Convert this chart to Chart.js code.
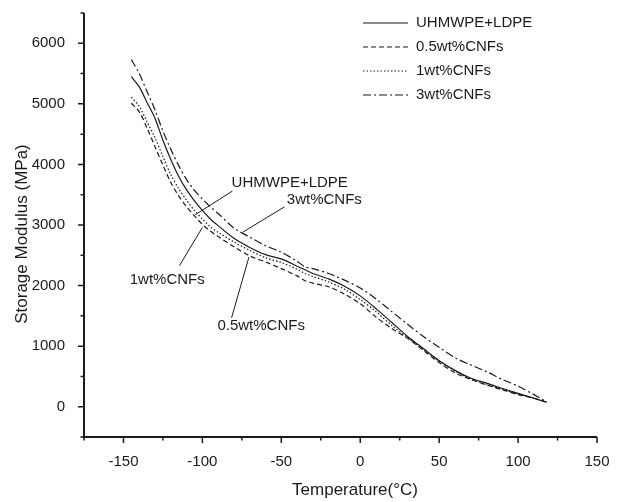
<!DOCTYPE html>
<html>
<head>
<meta charset="utf-8">
<script src="https://cdn.jsdelivr.net/npm/chart.js@4.4.0/dist/chart.umd.min.js"></script>
<style>
html, body { margin: 0; padding: 0; background: #fff; }
</style>
</head>
<body>
<canvas id="myChart" width="622" height="502"></canvas>
<script>
// temperatures (°C) shared by all four curves
let temps = [-145, -140, -135, -130, -125, -120, -115, -110, -105, -100, -95, -90, -80, -70, -60, -50, -40, -35, -30, -20, -10, 0, 10, 20, 30, 40, 50, 60, 70, 80, 90, 100, 110, 118]
// storage modulus (MPa)
let blendValues = [5450, 5280, 5020, 4760, 4400, 4080, 3800, 3580, 3400, 3240, 3100, 2990, 2780, 2630, 2510, 2440, 2320, 2260, 2200, 2110, 1990, 1830, 1620, 1390, 1160, 960, 760, 600, 470, 390, 300, 220, 140, 75]
let cnf05Values = [5010, 4870, 4600, 4290, 3990, 3700, 3480, 3300, 3150, 3010, 2900, 2810, 2640, 2490, 2390, 2280, 2160, 2080, 2040, 1980, 1860, 1700, 1480, 1290, 1130, 930, 730, 560, 450, 360, 280, 200, 140, 75]
let cnf1Values = [5110, 4960, 4700, 4440, 4130, 3830, 3600, 3410, 3240, 3100, 2970, 2880, 2720, 2580, 2460, 2380, 2270, 2200, 2150, 2060, 1940, 1770, 1570, 1340, 1140, 950, 760, 590, 460, 370, 290, 210, 140, 75]
let cnf3Values = [5730, 5500, 5200, 4900, 4550, 4250, 3980, 3750, 3570, 3430, 3300, 3190, 2950, 2800, 2660, 2550, 2400, 2310, 2280, 2200, 2090, 1960, 1780, 1570, 1360, 1160, 980, 810, 690, 580, 450, 340, 200, 85]
let seriesNames = ['UHMWPE+LDPE', '0.5wt%CNFs', '1wt%CNFs', '3wt%CNFs']
let xTickValues = [-150, -100, -50, 0, 50, 100, 150]
let xMinorValues = [-175, -125, -75, -25, 25, 75, 125]
let yTickValues = [0, 1000, 2000, 3000, 4000, 5000, 6000]
let yMinorValues = [-500, 500, 1500, 2500, 3500, 4500, 5500, 6500]
let xTitle = 'Temperature(°C)'
let yTitle = 'Storage Modulus (MPa)'

// labels written inside the plot, with a pointer to the curve (data units)
let curveNotes = [
    { text: 'UHMWPE+LDPE', tx: -81.5, ty: 3700, from: [-81, 3560], to: [-104.5, 3170] },
    { text: '3wt%CNFs', tx: -46.5, ty: 3420, from: [-48, 3300], to: [-74.5, 2880] },
    { text: '1wt%CNFs', tx: -146, ty: 2100, from: [-114.5, 2330], to: [-100, 2960] },
    { text: '0.5wt%CNFs', tx: -90.5, ty: 1340, from: [-81.5, 1470], to: [-70.5, 2470] }
]

let dashes = [[], [5, 3], [1.5, 2], [8, 3, 2, 3]]
let allValues = [blendValues, cnf05Values, cnf1Values, cnf3Values]
let ink = '#1a1a1a'
let fontName = '"Liberation Sans", Arial, sans-serif'

function toPoints(values) {
    return temps.map((t, i) => ({ x: t, y: values[i] }))
}

let frameAndNotes = {
    id: 'frameAndNotes',
    afterDraw(chart) {
        let ctx = chart.ctx
        let area = chart.chartArea
        let xs = chart.scales.x, ys = chart.scales.y
        ctx.save()
        ctx.strokeStyle = ink
        ctx.fillStyle = ink
        // axes
        ctx.lineWidth = 2
        ctx.beginPath()
        ctx.moveTo(area.left, area.top)
        ctx.lineTo(area.left, area.bottom)
        ctx.lineTo(area.right, area.bottom)
        ctx.stroke()
        // ticks
        ctx.lineWidth = 1.5
        ctx.beginPath()
        xTickValues.forEach(v => {
            let px = xs.getPixelForValue(v)
            ctx.moveTo(px, area.bottom); ctx.lineTo(px, area.bottom + 6)
        })
        xMinorValues.forEach(v => {
            let px = xs.getPixelForValue(v)
            ctx.moveTo(px, area.bottom); ctx.lineTo(px, area.bottom + 3.5)
        })
        yTickValues.forEach(v => {
            let py = ys.getPixelForValue(v)
            ctx.moveTo(area.left, py); ctx.lineTo(area.left - 6, py)
        })
        yMinorValues.forEach(v => {
            let py = ys.getPixelForValue(v)
            ctx.moveTo(area.left, py); ctx.lineTo(area.left - 3.5, py)
        })
        ctx.stroke()

        // axis titles
        ctx.font = '17px ' + fontName
        ctx.textAlign = 'center'
        ctx.textBaseline = 'middle'
        ctx.fillText(xTitle, 355, 490)
        ctx.save()
        ctx.translate(22, 234)
        ctx.rotate(-Math.PI / 2)
        ctx.fillText(yTitle, 0, 0)
        ctx.restore()

        // legend in the upper right
        ctx.font = '15px ' + fontName
        ctx.textAlign = 'left'
        ctx.lineWidth = 1.2
        seriesNames.forEach((name, i) => {
            let y = 23 + i * 24
            ctx.setLineDash(dashes[i])
            ctx.beginPath()
            ctx.moveTo(363, y); ctx.lineTo(408, y)
            ctx.stroke()
            ctx.setLineDash([])
            ctx.fillText(name, 416, y)
        })

        // notes with pointer lines
        ctx.lineWidth = 1
        curveNotes.forEach(n => {
            ctx.beginPath()
            ctx.moveTo(xs.getPixelForValue(n.from[0]), ys.getPixelForValue(n.from[1]))
            ctx.lineTo(xs.getPixelForValue(n.to[0]), ys.getPixelForValue(n.to[1]))
            ctx.stroke()
            ctx.fillText(n.text, xs.getPixelForValue(n.tx), ys.getPixelForValue(n.ty))
        })
        ctx.restore()
    }
}

new Chart(document.querySelector('#myChart'), {
    type: 'line',
    data: {
        datasets: seriesNames.map((name, i) => ({
            label: name,
            data: toPoints(allValues[i]),
            borderColor: ink,
            borderWidth: 1.2,
            borderDash: dashes[i],
            pointRadius: 0,
            fill: false,
            tension: 0.3
        }))
    },
    options: {
        responsive: false,
        animation: false,
        layout: { padding: { top: 13, right: 25, left: 0, bottom: 0 } },
        plugins: { legend: { display: false }, tooltip: { enabled: false } },
        scales: {
            x: {
                type: 'linear',
                min: -175,
                max: 150,
                afterBuildTicks: scale => { scale.ticks = xTickValues.map(v => ({ value: v })) },
                afterFit: scale => {
                    scale.height = 65
                    scale.paddingLeft = 0
                    scale.paddingRight = 0
                },
                grid: { display: false },
                border: { display: false },
                ticks: { color: ink, font: { family: fontName, size: 15 }, padding: 8, maxRotation: 0 }
            },
            y: {
                type: 'linear',
                min: -500,
                max: 6500,
                afterBuildTicks: scale => { scale.ticks = yTickValues.map(v => ({ value: v })) },
                afterFit: scale => {
                    scale.width = 84
                    scale.paddingTop = 0
                    scale.paddingBottom = 0
                },
                grid: { display: false },
                border: { display: false },
                ticks: { color: ink, font: { family: fontName, size: 15 }, padding: 11, callback: v => String(v) }
            }
        }
    },
    plugins: [frameAndNotes]
})
</script>
</body>
</html>
